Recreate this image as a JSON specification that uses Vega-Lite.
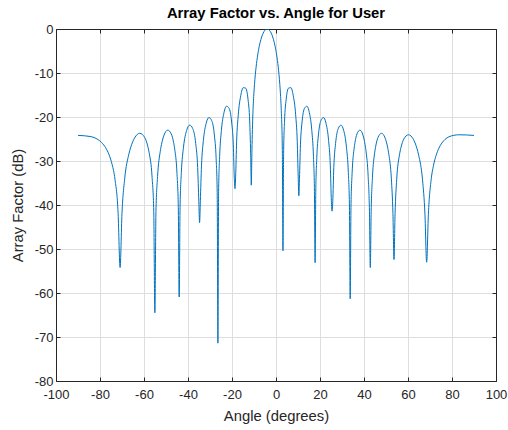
{
  "$schema": "https://vega.github.io/schema/vega-lite/v6.json",
  "width": 440,
  "height": 352,
  "autosize": {"type": "none"},
  "padding": {"left": 56, "top": 29, "right": 12, "bottom": 49},
  "background": "white",
  "title": {"text": "Array Factor vs. Angle for User", "fontSize": 14.8, "fontWeight": "bold", "font": "Liberation Sans", "color": "#000000", "anchor": "middle", "offset": 2},
  "data": {"values": [
    {"angle": -90, "af": -24.18}, {"angle": -84.129, "af": -24.46}, {"angle": -81.304, "af": -25.01}, {"angle": -79.19, "af": -25.84},
    {"angle": -77.423, "af": -27.0}, {"angle": -75.873, "af": -28.59}, {"angle": -74.473, "af": -30.82}, {"angle": -73.187, "af": -34.15},
    {"angle": -71.761, "af": -41.97}, {"angle": -70.867, "af": -54.2}, {"angle": -70.01, "af": -41.94}, {"angle": -68.789, "af": -34.08},
    {"angle": -66.89, "af": -28.46}, {"angle": -65.995, "af": -26.83}, {"angle": -64.291, "af": -24.77}, {"angle": -61.916, "af": -23.7},
    {"angle": -59.713, "af": -24.62}, {"angle": -58.321, "af": -26.57}, {"angle": -57.646, "af": -28.15}, {"angle": -56.331, "af": -33.66},
    {"angle": -55.564, "af": -41.46}, {"angle": -55.06, "af": -64.5}, {"angle": -54.563, "af": -41.41}, {"angle": -53.829, "af": -33.52},
    {"angle": -52.632, "af": -27.87}, {"angle": -52.046, "af": -26.22}, {"angle": -50.896, "af": -24.12}, {"angle": -49.223, "af": -22.99},
    {"angle": -47.604, "af": -23.85}, {"angle": -46.553, "af": -25.76}, {"angle": -46.034, "af": -27.32}, {"angle": -45.012, "af": -32.79},
    {"angle": -44.408, "af": -40.56}, {"angle": -44.008, "af": -60.9}, {"angle": -43.611, "af": -40.47}, {"angle": -43.02, "af": -32.56},
    {"angle": -42.048, "af": -26.86}, {"angle": -40.617, "af": -23.05}, {"angle": -39.217, "af": -21.85}, {"angle": -37.844, "af": -22.63},
    {"angle": -36.495, "af": -26.02}, {"angle": -35.609, "af": -31.44}, {"angle": -35.083, "af": -39.18}, {"angle": -34.733, "af": -44.0},
    {"angle": -34.385, "af": -39.04}, {"angle": -33.866, "af": -31.1}, {"angle": -33.008, "af": -25.34}, {"angle": -31.736, "af": -21.43},
    {"angle": -30.481, "af": -20.13}, {"angle": -29.242, "af": -20.81}, {"angle": -28.018, "af": -24.09}, {"angle": -27.21, "af": -29.43},
    {"angle": -26.728, "af": -37.12}, {"angle": -26.408, "af": -71.4}, {"angle": -26.088, "af": -36.91}, {"angle": -25.611, "af": -28.92},
    {"angle": -24.819, "af": -23.06}, {"angle": -23.641, "af": -19.01}, {"angle": -22.474, "af": -17.55}, {"angle": -21.316, "af": -18.05},
    {"angle": -20.167, "af": -21.14}, {"angle": -19.406, "af": -26.34}, {"angle": -18.951, "af": -33.94}, {"angle": -18.648, "af": -36.3},
    {"angle": -18.346, "af": -33.61}, {"angle": -17.894, "af": -25.52}, {"angle": -17.143, "af": -19.49}, {"angle": -16.022, "af": -15.14},
    {"angle": -14.907, "af": -13.34}, {"angle": -13.798, "af": -13.45}, {"angle": -12.695, "af": -16.07}, {"angle": -11.962, "af": -20.9},
    {"angle": -11.523, "af": -28.26}, {"angle": -11.231, "af": -35.5}, {"angle": -10.939, "af": -27.58}, {"angle": -10.501, "af": -19.18},
    {"angle": -10.137, "af": -15.35}, {"angle": -9.773, "af": -12.58}, {"angle": -9.047, "af": -8.66}, {"angle": -8.323, "af": -5.92},
    {"angle": -7.6, "af": -3.91}, {"angle": -6.878, "af": -2.41}, {"angle": -6.157, "af": -1.32}, {"angle": -5.437, "af": -0.58},
    {"angle": -4.718, "af": -0.14}, {"angle": -4.0, "af": 0}, {"angle": -3.282, "af": -0.14}, {"angle": -2.565, "af": -0.58},
    {"angle": -1.848, "af": -1.32}, {"angle": -1.132, "af": -2.41}, {"angle": -0.416, "af": -3.91}, {"angle": 0.3, "af": -5.92},
    {"angle": 1.017, "af": -8.66}, {"angle": 1.733, "af": -12.58}, {"angle": 2.091, "af": -15.35}, {"angle": 2.45, "af": -19.18},
    {"angle": 2.88, "af": -27.58}, {"angle": 3.167, "af": -50.4}, {"angle": 3.454, "af": -28.26}, {"angle": 3.884, "af": -20.9},
    {"angle": 4.603, "af": -16.07}, {"angle": 5.681, "af": -13.45}, {"angle": 6.762, "af": -13.34}, {"angle": 7.845, "af": -15.14},
    {"angle": 8.931, "af": -19.49}, {"angle": 9.657, "af": -25.52}, {"angle": 10.093, "af": -33.61}, {"angle": 10.384, "af": -37.9},
    {"angle": 10.675, "af": -33.94}, {"angle": 11.113, "af": -26.34}, {"angle": 11.844, "af": -21.14}, {"angle": 12.944, "af": -18.05},
    {"angle": 14.049, "af": -17.55}, {"angle": 15.159, "af": -19.01}, {"angle": 16.275, "af": -23.06}, {"angle": 17.022, "af": -28.92},
    {"angle": 17.472, "af": -36.91}, {"angle": 17.773, "af": -53.1}, {"angle": 18.074, "af": -37.12}, {"angle": 18.527, "af": -29.43},
    {"angle": 19.283, "af": -24.09}, {"angle": 20.426, "af": -20.81}, {"angle": 21.577, "af": -20.13}, {"angle": 22.737, "af": -21.43},
    {"angle": 23.906, "af": -25.34}, {"angle": 24.692, "af": -31.1}, {"angle": 25.166, "af": -39.04}, {"angle": 25.483, "af": -41.4},
    {"angle": 25.801, "af": -39.18}, {"angle": 26.279, "af": -31.44}, {"angle": 27.081, "af": -26.02}, {"angle": 28.294, "af": -22.63},
    {"angle": 29.521, "af": -21.85}, {"angle": 30.764, "af": -23.05}, {"angle": 32.022, "af": -26.86}, {"angle": 32.871, "af": -32.56},
    {"angle": 33.384, "af": -40.47}, {"angle": 33.728, "af": -61.3}, {"angle": 34.073, "af": -40.56}, {"angle": 34.593, "af": -32.79},
    {"angle": 35.468, "af": -27.32}, {"angle": 35.909, "af": -25.76}, {"angle": 36.798, "af": -23.85}, {"angle": 38.152, "af": -22.99},
    {"angle": 39.531, "af": -24.12}, {"angle": 40.466, "af": -26.22}, {"angle": 40.938, "af": -27.87}, {"angle": 41.893, "af": -33.52},
    {"angle": 42.473, "af": -41.41}, {"angle": 42.863, "af": -54.2}, {"angle": 43.255, "af": -41.46}, {"angle": 43.848, "af": -33.66},
    {"angle": 44.849, "af": -28.15}, {"angle": 45.357, "af": -26.57}, {"angle": 46.385, "af": -24.62}, {"angle": 47.966, "af": -23.7},
    {"angle": 49.596, "af": -24.77}, {"angle": 50.714, "af": -26.83}, {"angle": 51.283, "af": -28.46}, {"angle": 52.443, "af": -34.08},
    {"angle": 53.153, "af": -41.94}, {"angle": 53.634, "af": -52.4}, {"angle": 54.12, "af": -41.97}, {"angle": 54.859, "af": -34.15},
    {"angle": 56.124, "af": -28.59}, {"angle": 56.772, "af": -27.0}, {"angle": 58.102, "af": -25.01}, {"angle": 60.198, "af": -24.04},
    {"angle": 62.436, "af": -25.06}, {"angle": 64.026, "af": -27.08}, {"angle": 64.856, "af": -28.7}, {"angle": 66.598, "af": -34.28},
    {"angle": 67.705, "af": -42.12}, {"angle": 68.473, "af": -53.0}, {"angle": 69.268, "af": -42.12}, {"angle": 70.518, "af": -34.28},
    {"angle": 71.622, "af": -30.94}, {"angle": 72.793, "af": -28.7}, {"angle": 74.048, "af": -27.08}, {"angle": 75.407, "af": -25.91},
    {"angle": 76.905, "af": -25.06}, {"angle": 78.592, "af": -24.5}, {"angle": 80.841, "af": -24.16}, {"angle": 83.094, "af": -24.04},
    {"angle": 90, "af": -24.18}
  ]},
  "layer": [
    {
      "mark": {"type": "line", "color": "#0072BD", "strokeWidth": 1, "interpolate": "monotone", "clip": true},
      "encoding": {
        "x": {"field": "angle", "type": "quantitative", "scale": {"domain": [-100, 100], "nice": false, "zero": false},
          "axis": {"orient": "bottom", "values": [-100, -80, -60, -40, -20, 0, 20, 40, 60, 80, 100], "title": "Angle (degrees)", "grid": true, "labelExpr": "'' + datum.value", "labelPadding": 11, "titlePadding": 7}},
        "y": {"field": "af", "type": "quantitative", "scale": {"domain": [-80, 0], "nice": false, "zero": false},
          "axis": {"orient": "left", "values": [-80, -70, -60, -50, -40, -30, -20, -10, 0], "title": "Array Factor (dB)", "grid": true, "labelExpr": "'' + datum.value", "labelPadding": 7, "titlePadding": 9}}
      }
    },
    {
      "mark": {"type": "line", "strokeOpacity": 0},
      "encoding": {
        "x": {"field": "angle", "type": "quantitative",
          "axis": {"orient": "top", "values": [-100, -80, -60, -40, -20, 0, 20, 40, 60, 80, 100], "labels": false, "title": null, "grid": false}},
        "y": {"field": "af", "type": "quantitative",
          "axis": {"orient": "right", "values": [-80, -70, -60, -50, -40, -30, -20, -10, 0], "labels": false, "title": null, "grid": false}}
      }
    }
  ],
  "resolve": {"axis": {"x": "independent", "y": "independent"}},
  "config": {
    "view": {"stroke": null},
    "axis": {
      "domainColor": "#262626", "domainWidth": 1, "tickColor": "#262626", "tickSize": -4, "tickWidth": 1, "labelFlush": false,
      "gridColor": "#dedede", "gridWidth": 1, "labelFont": "Liberation Sans", "labelFontSize": 13, "labelColor": "#262626",
      "titleFont": "Liberation Sans", "titleFontSize": 14.8, "titleFontWeight": "normal", "titleColor": "#262626"
    }
  }
}
